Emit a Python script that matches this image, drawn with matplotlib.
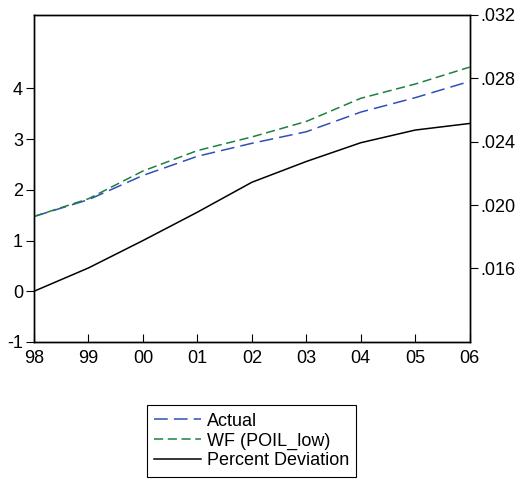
import matplotlib
matplotlib.use("Agg")
import matplotlib.pyplot as plt

plt.rcParams['font.family'] = ['Liberation Sans', 'DejaVu Sans']

years = [1998, 1999, 2000, 2001, 2002, 2003, 2004, 2005, 2006]
year_labels = ["98", "99", "00", "01", "02", "03", "04", "05", "06"]
actual = [0.01928, 0.02034, 0.02187, 0.02308, 0.0239, 0.02463, 0.02587, 0.02678, 0.02781]
wf_poil_low = [0.01928, 0.0204, 0.02215, 0.02344, 0.0243, 0.02528, 0.02674, 0.02764, 0.02871]
pct_dev = [0.0, 0.46, 1.0, 1.56, 2.15, 2.56, 2.93, 3.18, 3.31]

left_ticks = [-1, 0, 1, 2, 3, 4]
right_ticks = [0.016, 0.020, 0.024, 0.028, 0.032]
right_labels = [".016", ".020", ".024", ".028", ".032"]

fig = plt.figure(figsize=(5.19, 4.83), dpi=100)
ax = fig.add_axes([0.0655, 0.292, 0.8395, 0.677])
ax2 = ax.twinx()

l3, = ax.plot(years, pct_dev, color='black', lw=1.1, label='Percent Deviation')
l1, = ax2.plot(years, actual, color='#3050B8', lw=1.1, dashes=(9, 4), label='Actual')
l2, = ax2.plot(years, wf_poil_low, color='#1E8040', lw=1.1, dashes=(6, 3), label='WF (POIL_low)')

ax.set_xlim(1998, 2006)
ax.set_ylim(-1, 5.45)
ax2.set_ylim(0.01136, 0.032)
ax.set_yticks(left_ticks)
ax.set_yticklabels([str(t) for t in left_ticks])
ax2.set_yticks(right_ticks)
ax2.set_yticklabels(right_labels)
ax.set_xticks(years)
ax.set_xticklabels(year_labels)

fs = 13
ax.tick_params(axis='y', direction='out', length=6, labelsize=fs, pad=2)
ax.tick_params(axis='x', direction='in', length=6, labelsize=fs, pad=6)
ax2.tick_params(axis='y', direction='out', length=6, labelsize=fs, pad=2)
for a in (ax, ax2):
    for s in a.spines.values():
        s.set_linewidth(1.0)

leg = fig.legend([l1, l2, l3], ['Actual', 'WF (POIL_low)', 'Percent Deviation'],
                 loc='center', bbox_to_anchor=(0.485, 0.087), fontsize=fs,
                 frameon=True, fancybox=False, edgecolor='black', framealpha=1,
                 handlelength=2.6, handletextpad=0.3, borderpad=0.4,
                 labelspacing=0.15, borderaxespad=0)
leg.get_frame().set_linewidth(0.8)

fig.savefig('out.png', dpi=100)
